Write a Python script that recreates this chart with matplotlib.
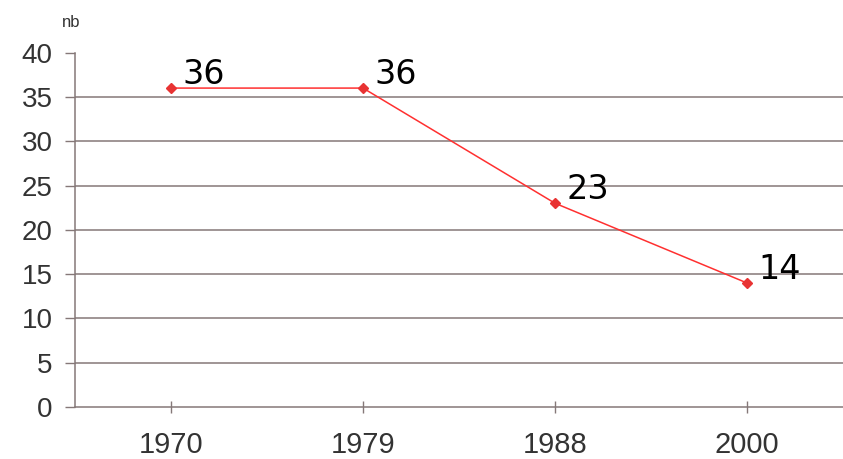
import matplotlib
matplotlib.use("Agg")
import matplotlib.pyplot as plt

years = ["1970", "1979", "1988", "2000"]
counts = [36, 36, 23, 14]
y_ticks = [0, 5, 10, 15, 20, 25, 30, 35, 40]

grid_color = "#857878"
line_color = "#ff3030"

plt.rcParams["font.family"] = ["Liberation Sans", "DejaVu Sans"]

fig = plt.figure(figsize=(8.43, 4.59), dpi=100)
ax = fig.add_axes([0.089, 0.1133, 0.911, 0.772])

x = list(range(len(years)))
ax.plot(x, counts, color=line_color, linewidth=1.1, marker="D",
        markersize=5.5, markerfacecolor="#e83333", markeredgecolor="#e83333",
        zorder=3)

for xi, v in zip(x, counts):
    ax.annotate(str(v), (xi, v), xytext=(8.5, 3), textcoords="offset points",
                ha="left", va="baseline", fontsize=24, color="black",
                family="DejaVu Sans")

ax.set_xlim(-0.5, len(years) - 0.5)
ax.set_ylim(0, 40)
ax.set_xticks(x)
ax.set_xticklabels(years)
ax.set_yticks(y_ticks)

# gridlines every 5, none at the top
for yv in y_ticks[1:-1]:
    ax.axhline(yv, color=grid_color, linewidth=1.1, zorder=1)

for side in ["top", "right"]:
    ax.spines[side].set_visible(False)
for side in ["left", "bottom"]:
    ax.spines[side].set_color(grid_color)
    ax.spines[side].set_linewidth(1.1)

ax.tick_params(axis="y", direction="out", length=7, width=1, color=grid_color,
               labelsize=20, labelcolor="#333333", pad=9)
ax.tick_params(axis="x", direction="inout", length=9, width=1, color=grid_color,
               labelsize=21, labelcolor="#333333", pad=13)

fig.text(0.073, 0.95, "nb", fontsize=12, color="#333333", ha="left", va="center")

fig.savefig("out.png", dpi=100)
